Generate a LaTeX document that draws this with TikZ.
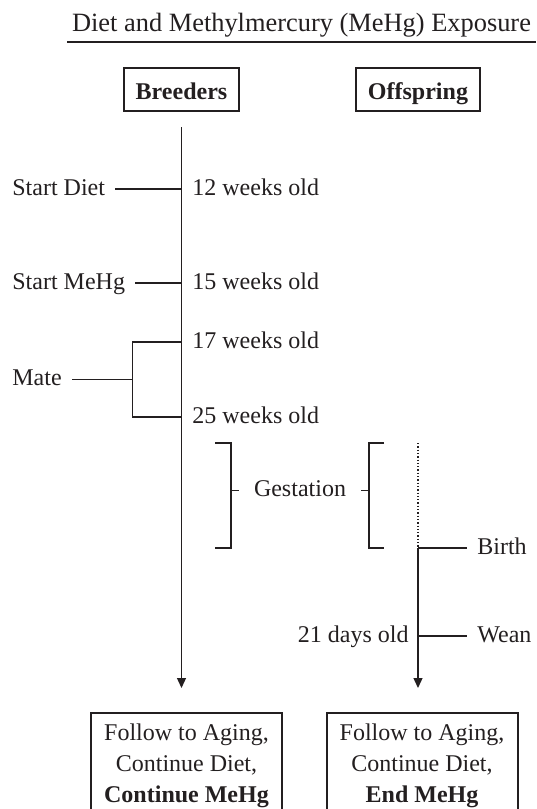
\documentclass[tikz,border=0pt]{standalone}
\usepackage{fontspec}
\setmainfont{Liberation Serif}
\usetikzlibrary{arrows.meta, positioning, calc}
\definecolor{ink}{HTML}{231F20}

\begin{document}
\begin{tikzpicture}[
    x=0.5pt, y=-0.5pt,
    font=\fontsize{12}{14}\selectfont,
    every node/.style={text=ink},
    header/.style={rectangle, draw=ink, line width=1pt, inner xsep=6pt, minimum height=21.5pt, text height=9.5pt, text depth=0pt, font=\fontsize{12}{14}\selectfont\bfseries},
    tag/.style={inner xsep=5pt, inner ysep=0pt, text height=8pt, text depth=2pt},
    result/.style={rectangle, draw=ink, line width=1pt, align=center, minimum width=95.5pt, inner ysep=5.5pt, font=\fontsize{12}{15.5}\selectfont},
    timeline/.style={draw=ink, line width=0.65pt},
    arrow/.style={timeline, -{Triangle[length=5pt, width=4.5pt]}}
]
    \useasboundingbox (0,0) rectangle (536,809);

    % Titulo
    \node[anchor=base, font=\fontsize{13.2}{15}\selectfont] (title) at (301.5,31) {Diet and Methylmercury (MeHg) Exposure};
    \draw[draw=ink, line width=1pt] (67,42) -- (536,42);

    % Nodos
    \node[header] (breeders) at (181.5,89.5) {Breeders};
    \node[header] (offspring) at (418,89.5) {Offspring};

    \node[tag, anchor=west] (diet) at (2,189) {Start Diet};
    \node[tag, anchor=west] (mehg) at (2,283) {Start MeHg};
    \node[tag, anchor=west] (mate) at (2,379.5) {Mate};

    \node[tag, anchor=west] (w12) at (182,189) {12 weeks old};
    \node[tag, anchor=west] (w15) at (182,283) {15 weeks old};
    \node[tag, anchor=west] (w17) at (182,342) {17 weeks old};
    \node[tag, anchor=west] (w25) at (182,417) {25 weeks old};

    \node[tag] (gest) at (300,490.5) {Gestation};
    \node[tag, anchor=west] (birth) at (467,548) {Birth};
    \node[tag, anchor=west] (wean) at (467,636) {Wean};
    \node[tag, anchor=east, inner xsep=4.5pt] (d21) at (418,636) {21 days old};

    \node[result, anchor=north] (brdEnd) at (186.5,712) {Follow to Aging,\\Continue Diet,\\\textbf{Continue MeHg}};
    \node[result, anchor=north] (offEnd) at (422,712) {Follow to Aging,\\Continue Diet,\\\textbf{End MeHg}};

    % Puntos de la linea de tiempo
    \coordinate (bTop) at (181.5,127);
    \coordinate (bEnd) at (181.5,688);
    \coordinate (b12) at (181.5,189);
    \coordinate (b15) at (181.5,283);
    \coordinate (b17) at (181.5,342);
    \coordinate (b25) at (181.5,417);
    \coordinate (mj) at (132.5,379.5);
    \coordinate (gl) at (231,490.5);
    \coordinate (gr) at (369,490.5);
    \coordinate (oTop) at (418,443);
    \coordinate (oBirth) at (418,548);
    \coordinate (o21) at (418,636);
    \coordinate (oEnd) at (418,688);

    % Conexiones
    \draw[arrow] (bTop) -- (bEnd);
    \draw[timeline] (diet) -- (b12);
    \draw[timeline] (mehg) -- (b15);
    \draw[timeline] (b17) -| (mj) |- (b25);
    \draw[timeline] (mate) -- (mj);

    \draw[timeline] (215,443) -| (231,548) -- (215,548);
    \draw[timeline] (gl) -- ++(8,0);
    \draw[timeline] (384,443) -| (369,548) -- (384,548);
    \draw[timeline] (gr) -- ++(-8,0);

    \draw[timeline, densely dotted] (oTop) -- (oBirth);
    \draw[arrow] (oBirth) -- (oEnd);
    \draw[timeline] (oBirth) -- (birth);
    \draw[timeline] (o21) -- (wean);

\end{tikzpicture}
\end{document}
